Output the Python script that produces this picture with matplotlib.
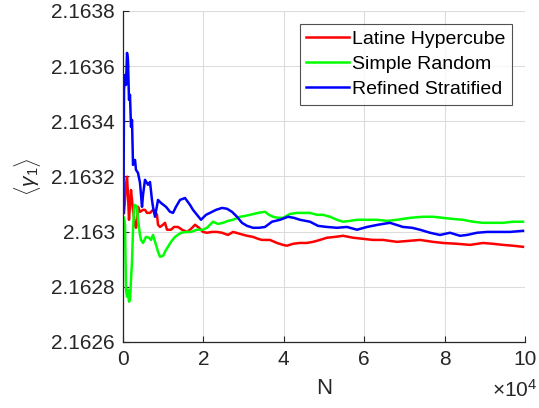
import numpy as np
import matplotlib
matplotlib.use("Agg")
import matplotlib.pyplot as plt
from matplotlib.ticker import FuncFormatter

plt.rcParams['font.family'] = ['Liberation Sans', 'DejaVu Sans']
plt.rcParams['mathtext.fontset'] = 'custom'
plt.rcParams['mathtext.rm'] = 'Liberation Sans'
plt.rcParams['mathtext.it'] = 'Liberation Sans:italic'

# running mean of gamma_1 vs sample count N (N in units of 1e4)
n_lhs = [0.025, 0.050, 0.075, 0.100, 0.124, 0.149, 0.174, 0.199, 0.224, 0.249,
         0.299, 0.323, 0.348, 0.373, 0.423, 0.498, 0.547, 0.597, 0.672, 0.746,
         0.796, 0.846, 0.871, 0.920, 0.995, 1.045, 1.095, 1.194, 1.269, 1.368,
         1.468, 1.592, 1.692, 1.791, 1.891, 1.990, 2.090, 2.214, 2.338, 2.463,
         2.612, 2.736, 2.910, 3.085, 3.234, 3.358, 3.458, 3.657, 3.831, 3.980,
         4.080, 4.229, 4.403, 4.577, 4.726, 4.900, 5.075, 5.274, 5.473, 5.721,
         5.970, 6.219, 6.468, 6.816, 7.139, 7.388, 7.711, 7.960, 8.308, 8.632,
         8.955, 9.204, 9.453, 9.701, 9.950]
g_lhs = [2.163068, 2.163115, 2.163170, 2.163199, 2.163133, 2.163043, 2.163097, 2.163151, 2.163115, 2.163079,
         2.163025, 2.163014, 2.163032, 2.163090, 2.163072, 2.163079, 2.163079, 2.163068, 2.163068, 2.163079,
         2.163072, 2.163061, 2.163025, 2.163017, 2.163025, 2.163032, 2.163007, 2.163007, 2.163017, 2.163017,
         2.163007, 2.162999, 2.163010, 2.163025, 2.163014, 2.162999, 2.162996, 2.162999, 2.162999, 2.162996,
         2.162988, 2.162999, 2.162992, 2.162985, 2.162981, 2.162974, 2.162970, 2.162970, 2.162959, 2.162952,
         2.162949, 2.162956, 2.162959, 2.162959, 2.162963, 2.162970, 2.162978, 2.162981, 2.162985, 2.162978,
         2.162974, 2.162970, 2.162970, 2.162963, 2.162967, 2.162970, 2.162963, 2.162959, 2.162956, 2.162952,
         2.162959, 2.162956, 2.162952, 2.162949, 2.162945]

n_srs = [0.025, 0.050, 0.075, 0.100, 0.124, 0.149, 0.174, 0.199, 0.224, 0.249,
         0.274, 0.299, 0.348, 0.373, 0.423, 0.448, 0.498, 0.572, 0.647, 0.697,
         0.746, 0.821, 0.871, 0.920, 0.995, 1.070, 1.119, 1.194, 1.294, 1.443,
         1.592, 1.692, 1.841, 1.990, 2.090, 2.239, 2.363, 2.488, 2.612, 2.736,
         2.910, 3.035, 3.159, 3.358, 3.532, 3.632, 3.731, 3.856, 3.980, 4.154,
         4.328, 4.478, 4.652, 4.826, 4.975, 5.149, 5.323, 5.473, 5.647, 5.821,
         6.070, 6.318, 6.567, 6.816, 7.139, 7.463, 7.711, 7.960, 8.209, 8.458,
         8.706, 8.955, 9.204, 9.453, 9.701, 9.950]
g_srs = [2.163050, 2.163025, 2.162789, 2.162764, 2.162789, 2.162746, 2.162753, 2.162825, 2.162891, 2.163007,
         2.163079, 2.163097, 2.163090, 2.163043, 2.162988, 2.162970, 2.162959, 2.162981, 2.162978, 2.162970,
         2.162988, 2.162952, 2.162927, 2.162909, 2.162912, 2.162934, 2.162945, 2.162963, 2.162981, 2.162996,
         2.162999, 2.162999, 2.163007, 2.163007, 2.163014, 2.163036, 2.163028, 2.163032, 2.163039, 2.163043,
         2.163054, 2.163057, 2.163061, 2.163068, 2.163072, 2.163061, 2.163054, 2.163050, 2.163050, 2.163064,
         2.163068, 2.163068, 2.163068, 2.163061, 2.163061, 2.163054, 2.163043, 2.163036, 2.163039, 2.163043,
         2.163043, 2.163043, 2.163039, 2.163043, 2.163050, 2.163054, 2.163054, 2.163050, 2.163046, 2.163043,
         2.163036, 2.163032, 2.163032, 2.163032, 2.163036, 2.163036]

n_rss = [0.012, 0.025, 0.050, 0.075, 0.100, 0.124, 0.149, 0.174, 0.199, 0.224,
         0.249, 0.299, 0.323, 0.373, 0.423, 0.473, 0.498, 0.547, 0.622, 0.672,
         0.721, 0.746, 0.796, 0.871, 0.945, 1.070, 1.169, 1.244, 1.318, 1.418,
         1.542, 1.667, 1.741, 1.841, 1.940, 2.065, 2.164, 2.313, 2.463, 2.587,
         2.711, 2.836, 2.960, 3.085, 3.234, 3.383, 3.532, 3.706, 3.905, 4.104,
         4.254, 4.403, 4.652, 4.851, 5.075, 5.323, 5.572, 5.821, 6.070, 6.343,
         6.642, 6.965, 7.189, 7.388, 7.637, 7.886, 8.134, 8.383, 8.557, 8.806,
         9.055, 9.303, 9.627, 9.950]
g_rss = [2.163068, 2.163514, 2.163568, 2.163532, 2.163648, 2.163622, 2.163478, 2.163496, 2.163380, 2.163405,
         2.163242, 2.163260, 2.163224, 2.163213, 2.163177, 2.163090, 2.163133, 2.163188, 2.163170, 2.163180,
         2.163115, 2.163090, 2.163054, 2.163115, 2.163104, 2.163090, 2.163072, 2.163068, 2.163090, 2.163115,
         2.163122, 2.163097, 2.163079, 2.163061, 2.163043, 2.163061, 2.163068, 2.163079, 2.163086, 2.163083,
         2.163072, 2.163054, 2.163032, 2.163021, 2.163014, 2.163014, 2.163017, 2.163036, 2.163043, 2.163054,
         2.163050, 2.163043, 2.163036, 2.163021, 2.163017, 2.163014, 2.163017, 2.163007, 2.163017, 2.163025,
         2.163032, 2.163017, 2.163014, 2.163007, 2.162996, 2.162988, 2.162996, 2.162985, 2.162988, 2.162996,
         2.162999, 2.162999, 2.162999, 2.163003]

labels = ['Latine Hypercube', 'Simple Random', 'Refined Stratified']
x_ticks = [0, 2, 4, 6, 8, 10]
y_ticks = [2.1626, 2.1628, 2.1630, 2.1632, 2.1634, 2.1636, 2.1638]

fig = plt.figure(figsize=(5.39, 4.08), dpi=100)
ax = fig.add_axes([0.2282, 0.1618, 0.7458, 0.8113])

ax.plot(n_lhs, g_lhs, color=(1, 0, 0), lw=1.8, label=labels[0])
ax.plot(n_srs, g_srs, color=(0, 1, 0), lw=1.8, label=labels[1])
ax.plot(n_rss, g_rss, color=(0, 0, 1), lw=1.8, label=labels[2])

ax.set_xlim(0, 10)
ax.set_ylim(2.1626, 2.1638)
ax.set_xticks(x_ticks)
ax.set_yticks(y_ticks)
ax.yaxis.set_major_formatter(FuncFormatter(lambda v, p: '%g' % v))
ax.grid(True, color='#dcdcdc', lw=0.8)
ax.set_axisbelow(True)
for s in ['top', 'right']:
    ax.spines[s].set_visible(False)
for s in ['left', 'bottom']:
    ax.spines[s].set_color('#262626')
    ax.spines[s].set_linewidth(0.9)
ax.tick_params(direction='in', length=4, width=0.8, colors='#262626',
               labelsize=15, pad=6)

ax.set_xlabel('N', fontsize=16, color='#262626', labelpad=6)
ax.set_ylabel(r'$\langle\gamma_1\rangle$', fontsize=15, color='#262626', labelpad=6)
fig.text(0.997, 0.018, r'$\times10^4$', ha='right', va='bottom',
         fontsize=15, color='#262626')

leg = ax.legend(loc='upper right', fontsize=14, frameon=True, fancybox=False,
                borderaxespad=0.65, handlelength=2.2, handletextpad=0.15,
                borderpad=0.35, labelspacing=0.38)
leg.get_frame().set_edgecolor('#262626')
leg.get_frame().set_linewidth(0.8)

fig.savefig('out.png', dpi=100)
